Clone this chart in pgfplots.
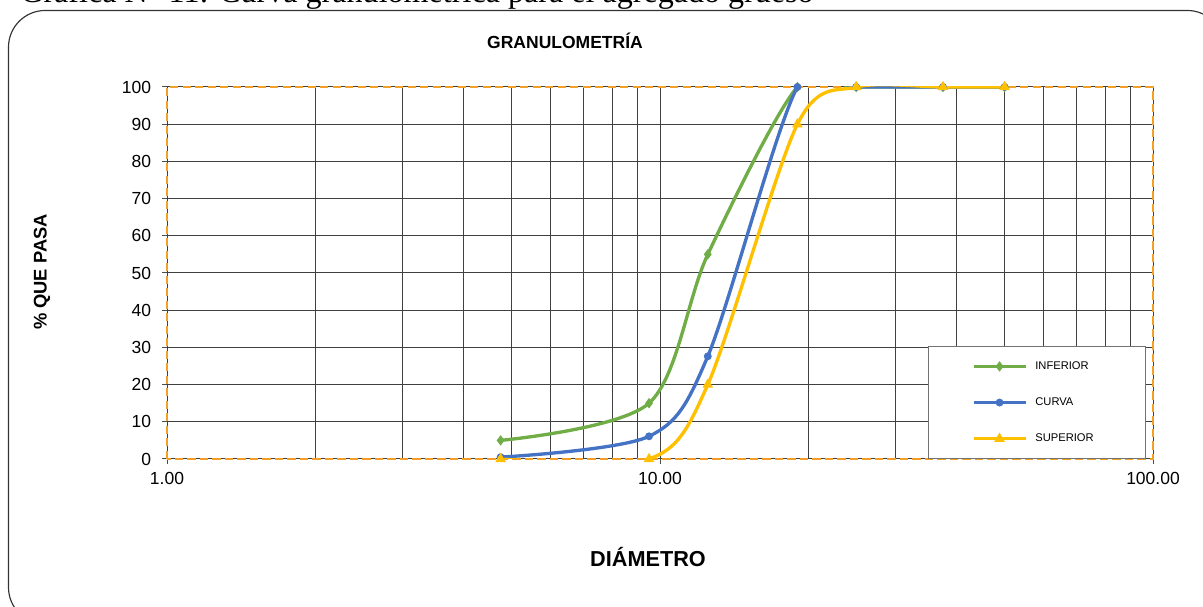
\documentclass[border=0pt]{standalone}
\usepackage{fontspec}
\setmainfont{Liberation Sans}
\newfontfamily\captionserif{Liberation Serif}
\usepackage{pgfplots}
\pgfplotsset{compat=1.18}

\definecolor{cinf}{HTML}{70AD47}
\definecolor{ccur}{HTML}{4472C4}
\definecolor{csup}{HTML}{FFC000}
\definecolor{axisorange}{RGB}{242,160,40}

\begin{document}
\begin{tikzpicture}
\path[use as bounding box] (0pt,0pt) rectangle (721.8pt,363.6pt);
\clip (0pt,0pt) rectangle (721.8pt,363.6pt);

\begin{scope}[x=0.6pt,y=0.6pt]
% caption line above the chart frame
\node[anchor=base west, inner sep=0pt] at (20,603.5)
  {\resizebox{476pt}{!}{\captionserif Gráfica N° 11: Curva granulométrica para el agregado grueso}};
% rounded chart frame
\draw[black!80, line width=0.7pt, rounded corners=22pt] (8.5,-18) rectangle (1224,595.5);
\end{scope}

\begin{axis}[
  at={(100.2pt,88.2pt)}, anchor=south west,
  scale only axis, width=591.6pt, height=223.2pt,
  xmode=log, xmin=1, xmax=100, ymin=0, ymax=100,
  xtick={1,10,100}, xticklabels={1.00,10.00,100.00},
  minor xtick={2,3,4,5,6,7,8,9,20,30,40,50,60,70,80,90},
  ytick={0,10,...,100},
  xtick pos=bottom, ytick pos=left,
  grid=both,
  major grid style={black!75, line width=0.6pt},
  minor grid style={black!75, line width=0.6pt},
  axis line style={draw=axisorange, line width=1.1pt, dash pattern=on 5pt off 2.5pt},
  tick align=outside, major tick length=3pt, minor tick length=0pt,
  tick style={black!70, line width=0.6pt},
  ticklabel style={font=\fontsize{10.5}{12}\selectfont},
  yticklabel style={xshift=-3pt},
  xticklabel style={yshift=-1.5pt},
  /pgf/number format/assume math mode=true,
  legend cell align=left,
  legend image code/.code={\draw[mark repeat=2,mark phase=2,#1] plot coordinates {(0pt,0pt) (15.5pt,0pt) (31pt,0pt)};},
  legend style={at={(rel axis cs:0.772,0)}, anchor=south west,
    draw=black!55, fill=white, line width=0.6pt,
    font=\fontsize{6.7}{8}\selectfont,
    inner xsep=26pt, inner ysep=6.8pt, row sep=11.5pt,
    nodes={inner xsep=5pt}},
]
\addplot[cinf, line width=2pt, smooth, tension=0.5, mark=diamond*, mark size=1.5pt, mark options={solid}]
  coordinates {(50,100) (37.5,100) (25,100) (19,100) (12.5,55) (9.5,15) (4.75,5)};
\addlegendentry{INFERIOR}
\addplot[ccur, line width=2pt, smooth, tension=0.5, mark=*, mark size=1.3pt, mark options={solid}]
  coordinates {(50,100) (37.5,100) (25,100) (19,100) (12.5,27.6) (9.5,6.1) (4.75,0.5)};
\addlegendentry{CURVA}
\addplot[csup, line width=2pt, smooth, tension=0.5, mark=triangle*, mark size=1.7pt, mark options={solid}]
  coordinates {(50,100) (37.5,100) (25,100) (19,90) (12.5,20) (9.5,0) (4.75,0)};
\addlegendentry{SUPERIOR}
\end{axis}

\begin{scope}[x=0.6pt,y=0.6pt]
\node[font=\bfseries\fontsize{10.5}{12}\selectfont] at (565,565.5) {GRANULOMETRÍA};
\node[font=\bfseries\fontsize{11}{13}\selectfont, rotate=90] at (42,334) {\% QUE PASA};
\node[font=\bfseries\fontsize{13}{15}\selectfont] at (648,49) {DIÁMETRO};
\end{scope}
\end{tikzpicture}
\end{document}
